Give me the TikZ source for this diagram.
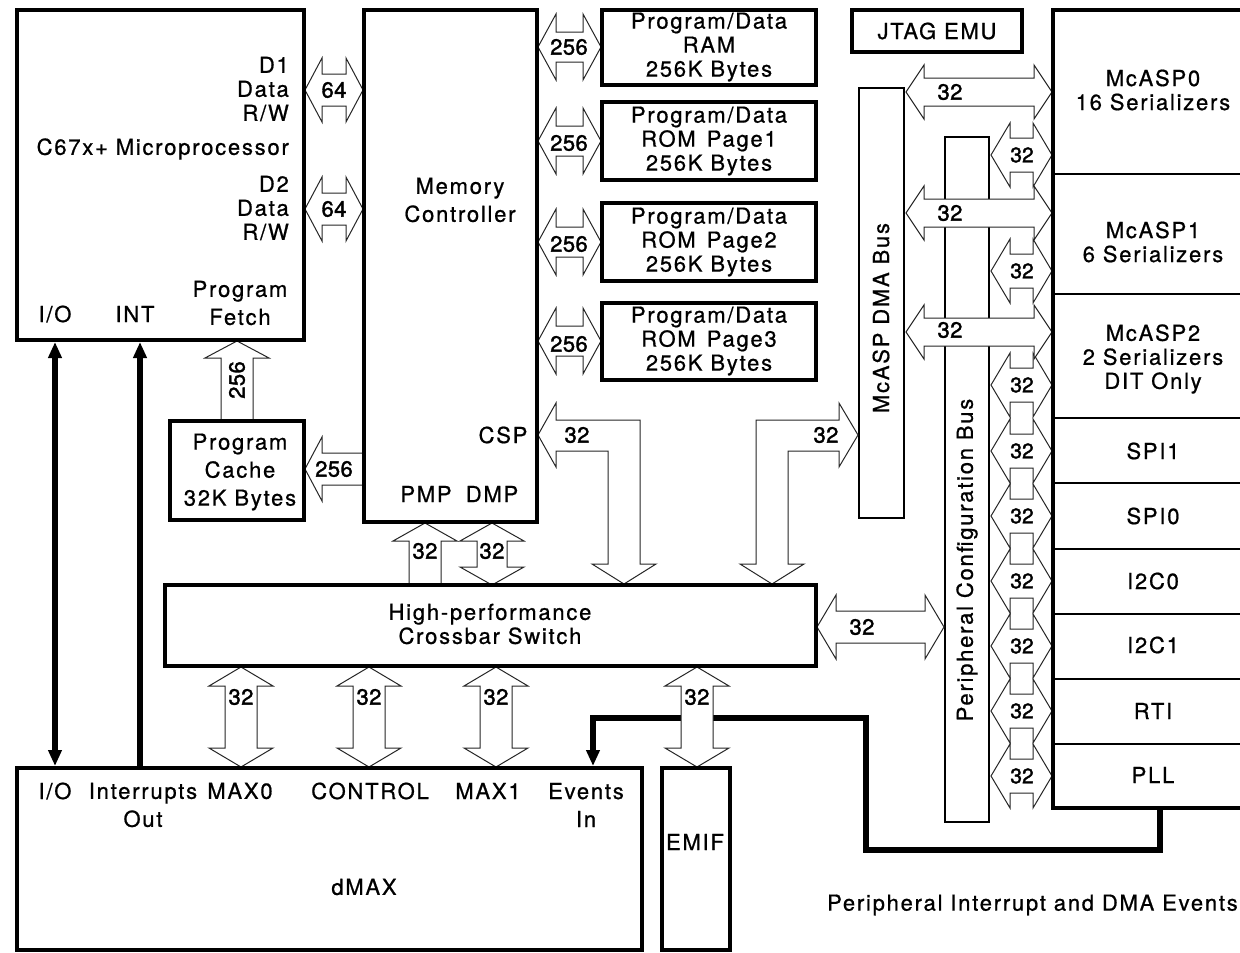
\documentclass[tikz,border=0pt]{standalone}
\usepackage{fontspec}
\setmainfont{TeX Gyre Heros}[LetterSpace=8,FakeBold=0.8]
\newfontfamily\numfont{TeX Gyre Heros}[LetterSpace=2,FakeBold=1.6]
\usetikzlibrary{arrows.meta}
\tikzset{
  box/.style={draw, line width=3.8pt, anchor=north west, inner sep=0pt, outer sep=0pt},
  thinbox/.style={draw, line width=1.2pt, anchor=north west, inner sep=0pt, outer sep=0pt},
  txt/.style={inner sep=0pt, align=center, font=\fontsize{22}{24}\selectfont},
  txtw/.style={inner sep=0pt, align=center, font=\fontsize{22}{28}\selectfont},
  num/.style={inner sep=0pt, font=\numfont\fontsize{22}{24}\selectfont},
  barrow/.style={draw=black!85, line width=1pt, fill=white, line join=miter},
  sig/.style={line width=6pt, line join=miter},
  tip/.style={-{Triangle[length=16pt,width=13pt]}},
  tips/.style={{Triangle[length=16pt,width=13pt]}-{Triangle[length=16pt,width=13pt]}},
  divline/.style={line width=1.2pt},
}
% horizontal double block arrow: x1 x2 yc headlen shafthalf headhalf
\newcommand\HDarrow[6]{%
 \draw[barrow] (#1,#3) -- ({#1+#4},{#3-#6}) -- ({#1+#4},{#3-#5}) -- ({#2-#4},{#3-#5}) -- ({#2-#4},{#3-#6}) -- (#2,#3) -- ({#2-#4},{#3+#6}) -- ({#2-#4},{#3+#5}) -- ({#1+#4},{#3+#5}) -- ({#1+#4},{#3+#6}) -- cycle;}
% vertical double block arrow: xc y1 y2 headlen shafthalf headhalf
\newcommand\VDarrow[6]{%
 \draw[barrow] (#1,#2) -- ({#1+#6},{#2+#4}) -- ({#1+#5},{#2+#4}) -- ({#1+#5},{#3-#4}) -- ({#1+#6},{#3-#4}) -- (#1,#3) -- ({#1-#6},{#3-#4}) -- ({#1-#5},{#3-#4}) -- ({#1-#5},{#2+#4}) -- ({#1-#6},{#2+#4}) -- cycle;}
\begin{document}
\begin{tikzpicture}[x=1pt,y=-1pt]
\useasboundingbox (0,0) rectangle (1240,953);
\fill[white] (0,0) rectangle (1240,953);

% buses
\node[thinbox, minimum width=45pt, minimum height=430pt] (dmabus) at (859,88) {};
\node[thinbox, minimum width=44pt, minimum height=685pt] (cfgbus) at (945,137) {};

% thick signal lines
\coordinate (evsrc) at (1160,808);
\coordinate (evin) at (593,766);
\draw[sig, tip] (evsrc) -- (1160,850) -- (866,850) -- (866,718) -- (593,718) -- (evin);
\coordinate (iotop) at (55,342);
\coordinate (iobot) at (55,766);
\draw[sig, tips] (iotop) -- (iobot);
\coordinate (inttop) at (140,342);
\coordinate (intbot) at (140,766);
\draw[sig, tip] (intbot) -- (inttop);

% block arrows
\HDarrow{305}{363}{90}{17}{16}{32}
\HDarrow{305}{363}{209}{17}{16}{32}
\HDarrow{538}{601}{47}{18}{15}{33}
\HDarrow{538}{601}{141}{18}{15}{33}
\HDarrow{538}{601}{242}{18}{15}{33}
\HDarrow{538}{601}{341}{18}{15}{33}
\foreach \yy in {155,271,385,451,516,581,646,711,776}{\HDarrow{991}{1052}{\yy}{19}{17}{32}}
\HDarrow{906}{1052}{92}{18}{14}{27}
\HDarrow{906}{1052}{213}{18}{14}{27}
\HDarrow{906}{1052}{332}{18}{14}{27}
\HDarrow{817}{944}{627}{19}{16}{32}
\VDarrow{241}{667}{767}{19}{16}{32}
\VDarrow{369}{667}{767}{19}{16}{32}
\VDarrow{496}{667}{767}{19}{16}{32}
\VDarrow{697}{667}{767}{19}{16}{32}
\VDarrow{492}{523}{585}{18}{15}{32}
% PMP up arrow
\draw[barrow] (425,523) -- (457,541) -- (441,541) -- (441,585) -- (409,585) -- (409,541) -- (393,541) -- cycle;
% program fetch up arrow
\draw[barrow] (237,341) -- (269,358) -- (253,358) -- (253,421) -- (221,421) -- (221,358) -- (205,358) -- cycle;
% cache left arrow
\draw[barrow] (305,469) -- (322,437) -- (322,453) -- (364,453) -- (364,485) -- (322,485) -- (322,501) -- cycle;
% CSP L arrow
\draw[barrow] (538,435) -- (556,403) -- (556,420) -- (640,420) -- (640,564) -- (656,564) -- (624,584) -- (592,564) -- (608,564) -- (608,451) -- (556,451) -- (556,467) -- cycle;
% DMA bus L arrow
\draw[barrow] (858,435) -- (839,403) -- (839,420) -- (756,420) -- (756,564) -- (740,564) -- (772,584) -- (804,564) -- (788,564) -- (788,451) -- (839,451) -- (839,467) -- cycle;

% boxes
\node[box, minimum width=287pt, minimum height=330pt] (cpu) at (17,10) {};
\node[box, minimum width=173pt, minimum height=512pt] (mc) at (364,10) {};
\node[box, minimum width=214pt, minimum height=75pt] (ram) at (602,10) {};
\node[box, minimum width=214pt, minimum height=78pt] (rom1) at (602,102) {};
\node[box, minimum width=214pt, minimum height=78pt] (rom2) at (602,203) {};
\node[box, minimum width=214pt, minimum height=77pt] (rom3) at (602,303) {};
\node[box, minimum width=170pt, minimum height=42pt] (jtag) at (852,10) {};
\node[box, minimum width=134pt, minimum height=99pt] (cache) at (170,421) {};
\node[box, minimum width=651pt, minimum height=81pt] (xbar) at (165,585) {};
\node[box, minimum width=625pt, minimum height=182pt] (dmax) at (17,768) {};
\node[box, minimum width=68pt, minimum height=182pt] (emif) at (662,768) {};
\node[box, minimum width=200pt, minimum height=798pt] (periph) at (1053,10) {};
\foreach \yy in {174,294,418,483,549,614,679,744}{\draw[divline] (1054,\yy) -- (1245,\yy);}

% texts
\node[txt, anchor=east, align=right] (d1) at (289,89) {D1\\Data\\R/W};
\node[txt, anchor=east] (cpuname) at (289,149) {C67x+ Microprocessor};
\node[txt, anchor=east, align=right] (d2) at (289,208) {D2\\Data\\R/W};
\node[txtw] (pfetch) at (240,303) {Program\\Fetch};
\node[txt] (cpuio) at (55,314) {I/O};
\node[txt] (cpuint) at (135,314) {INT};
\node[txtw] (mcname) at (460,200) {Memory\\Controller};
\node[txt] (csp) at (503,435) {CSP};
\node[txt] (pmp) at (426,494) {PMP};
\node[txt] (dmp) at (492,494) {DMP};
\node[txt] (tram) at (709,47) {Program/Data\\RAM\\256K Bytes};
\node[txt] (trom1) at (709,141) {Program/Data\\ROM\hspace{0.5em}Page1\\256K Bytes};
\node[txt] (trom2) at (709,242) {Program/Data\\ROM\hspace{0.5em}Page2\\256K Bytes};
\node[txt] (trom3) at (709,341) {Program/Data\\ROM\hspace{0.5em}Page3\\256K Bytes};
\node[txt] (tjtag) at (937,31) {JTAG EMU};
\node[txtw] (tcache) at (240,472) {Program\\Cache\\32K Bytes};
\node[txt] (txbar) at (490,624) {High-performance\\Crossbar Switch};
\node[txt] (dio) at (55,791) {I/O};
\node[txtw] (dint) at (143,805) {Interrupts\\Out};
\node[txt] (dmax0) at (240,791) {MAX0};
\node[txt] (dctl) at (370,791) {CONTROL};
\node[txt] (dmax1) at (488,791) {MAX1};
\node[txtw] (dev) at (586,805) {Events\\In};
\node[txt] (tdmax) at (364,887) {dMAX};
\node[txt] (temif) at (695,842) {EMIF};
\node[txt] (tmc0) at (1153,90) {McASP0\\16 Serializers};
\node[txt] (tmc1) at (1153,242) {McASP1\\6 Serializers};
\node[txt] (tmc2) at (1153,359) {McASP2\\2 Serializers\\DIT Only};
\node[txt] (tspi1) at (1153,451) {SPI1};
\node[txt] (tspi0) at (1153,516) {SPI0};
\node[txt] (ti2c0) at (1153,581) {I2C0};
\node[txt] (ti2c1) at (1153,645) {I2C1};
\node[txt] (trti) at (1153,711) {RTI};
\node[txt] (tpll) at (1153,775) {PLL};
\node[txt, rotate=90] (tdmabus) at (881,318) {McASP DMA Bus};
\node[txt, rotate=90] (tcfgbus) at (967,560) {Peripheral Configuration Bus};
\node[txt, anchor=east] (tevents) at (1238,905) {Peripheral Interrupt and DMA Events};

% arrow labels
\node[num] (n64a) at (334,90) {64};
\node[num] (n64b) at (334,209) {64};
\node[num] (n256a) at (569,47) {256};
\node[num] (n256b) at (569,143) {256};
\node[num] (n256c) at (569,244) {256};
\node[num] (n256d) at (569,344) {256};
\foreach \yy [count=\i] in {155,271,385,451,516,581,646,711,776}{\node[num, font=\numfont\fontsize{21}{24}\selectfont\addfontfeature{LetterSpace=0}] (ncfg\i) at (1022,\yy) {32};}
\node[num] (ndma1) at (950,92) {32};
\node[num] (ndma2) at (950,213) {32};
\node[num] (ndma3) at (950,330) {32};
\node[num] (nxc) at (862,627) {32};
\node[num] (ncsp) at (577,435) {32};
\node[num] (ndl) at (826,435) {32};
\node[num] (npmp) at (425,551) {32};
\node[num] (ndmp) at (492,551) {32};
\node[num] (nb1) at (241,697) {32};
\node[num] (nb2) at (369,697) {32};
\node[num] (nb3) at (496,697) {32};
\node[num] (nb4) at (697,697) {32};
\node[num] (ncache) at (334,469) {256};
\node[num, rotate=90] (nfetch) at (237,380) {256};
\end{tikzpicture}
\end{document}
